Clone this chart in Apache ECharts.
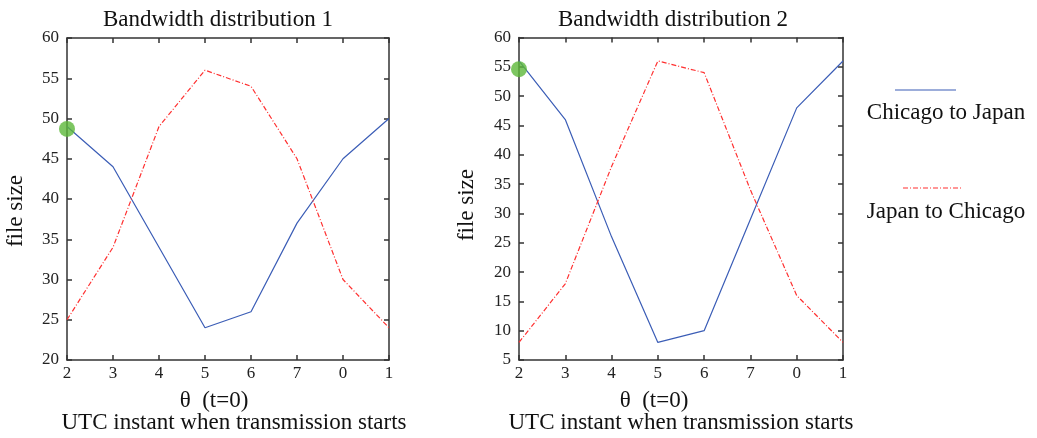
<!DOCTYPE html>
<html>
<head>
<meta charset="utf-8">
<script src="https://cdn.jsdelivr.net/npm/echarts@6/dist/echarts.min.js"></script>
<style>
  html, body { margin: 0; padding: 0; background: #fff; }
  #chart { width: 1037px; height: 438px; }
</style>
</head>
<body>
<div id="chart"></div>
<script>
// 数据
const categories = ['2', '3', '4', '5', '6', '7', '0', '1'];
const chicagoJapan1 = [49, 44, 34, 24, 26, 37, 45, 50];
const japanChicago1 = [25, 34, 49, 56, 54, 45, 30, 24];
const chicagoJapan2 = [56, 46, 26, 8, 10, 29, 48, 56];
const japanChicago2 = [8, 18, 38, 56, 54, 34, 16, 8];
const marker1 = [['2', 48.7]];
const marker2 = [['2', 54.6]];
const titles = ['Bandwidth distribution 1', 'Bandwidth distribution 2'];
const seriesNames = ['Chicago to Japan', 'Japan to Chicago'];

const FONT = "'Liberation Serif', 'DejaVu Serif', serif";
const BLUE = '#3b5db6';
const RED = '#ff3030';
const GREEN = '#5cb83a';
const AXIS = '#333';

const chart = echarts.init(document.getElementById('chart'));

const grids = [
    { left: 67, top: 38, width: 322, height: 322 },
    { left: 519, top: 37.5, width: 324, height: 322.5 }
];

function xAxes(gridIndex, pos) {
    return {
        type: 'category', data: categories, gridIndex, position: pos, boundaryGap: false,
        axisLine: { show: true, lineStyle: { color: AXIS, width: 1.5 } },
        axisTick: { show: true, inside: true, length: 5, lineStyle: { color: AXIS, width: 1.5 } },
        axisLabel: { show: pos === 'bottom', color: '#222', fontFamily: FONT, fontSize: 17, margin: 5 },
        splitLine: { show: false }
    };
}

function yAxes(gridIndex, pos, min) {
    return {
        type: 'value', gridIndex, position: pos, min, max: 60, interval: 5,
        axisLine: { show: true, lineStyle: { color: AXIS, width: 1.5 } },
        axisTick: { show: true, inside: true, length: 5, lineStyle: { color: AXIS, width: 1.5 } },
        axisLabel: { show: pos === 'left', color: '#222', fontFamily: FONT, fontSize: 17, margin: 8 },
        splitLine: { show: false }
    };
}

function lineSeries(name, data, axisIdx, color, dashed) {
    return {
        name, type: 'line', data, xAxisIndex: axisIdx, yAxisIndex: axisIdx,
        symbol: 'none', silent: true,
        lineStyle: { color, width: 1.2, type: dashed ? [5, 2, 1, 2] : 'solid' }
    };
}

// 居中文字
function label(text, x, y, size, rotation) {
    return {
        type: 'text', x, y, rotation: rotation || 0,
        style: { text, fontFamily: FONT, fontSize: size, fill: '#111', align: 'center', verticalAlign: 'middle' }
    };
}

const titleStyle = { fontFamily: FONT, fontSize: 23, fontWeight: 'normal', color: '#111' };

chart.setOption({
    animation: false,
    backgroundColor: '#fff',
    title: [
        { text: titles[0], left: 213, top: 3, textAlign: 'center', textStyle: titleStyle },
        { text: titles[1], left: 668, top: 3, textAlign: 'center', textStyle: titleStyle }
    ],
    grid: grids,
    xAxis: [xAxes(0, 'bottom'), xAxes(1, 'bottom'), xAxes(0, 'top'), xAxes(1, 'top')],
    yAxis: [yAxes(0, 'left', 20), yAxes(1, 'left', 5), yAxes(0, 'right', 20), yAxes(1, 'right', 5)],
    series: [
        lineSeries(seriesNames[0], chicagoJapan1, 0, BLUE, false),
        lineSeries(seriesNames[1], japanChicago1, 0, RED, true),
        lineSeries(seriesNames[0], chicagoJapan2, 1, BLUE, false),
        lineSeries(seriesNames[1], japanChicago2, 1, RED, true),
        { type: 'scatter', data: marker1, xAxisIndex: 0, yAxisIndex: 0, symbolSize: 16, itemStyle: { color: GREEN }, z: 5 },
        { type: 'scatter', data: marker2, xAxisIndex: 1, yAxisIndex: 1, symbolSize: 16, itemStyle: { color: GREEN }, z: 5 }
    ],
    graphic: [
        // 轴说明
        label('file size', 16, 211, 23, Math.PI / 2),
        label('file size', 467, 205, 23, Math.PI / 2),
        label('θ  (t=0)', 214, 401, 23),
        label('UTC instant when transmission starts', 234, 423, 23),
        label('θ  (t=0)', 654, 401, 23),
        label('UTC instant when transmission starts', 681, 423, 23),
        // 图例
        { type: 'line', shape: { x1: 895, y1: 90, x2: 956, y2: 90 }, style: { stroke: BLUE, lineWidth: 1.2 } },
        label(seriesNames[0], 946, 113, 23),
        { type: 'line', shape: { x1: 903, y1: 188, x2: 963, y2: 188 }, style: { stroke: RED, lineWidth: 1.2, lineDash: [5, 2, 1, 2] } },
        label(seriesNames[1], 946, 212, 23)
    ]
});
</script>
</body>
</html>
